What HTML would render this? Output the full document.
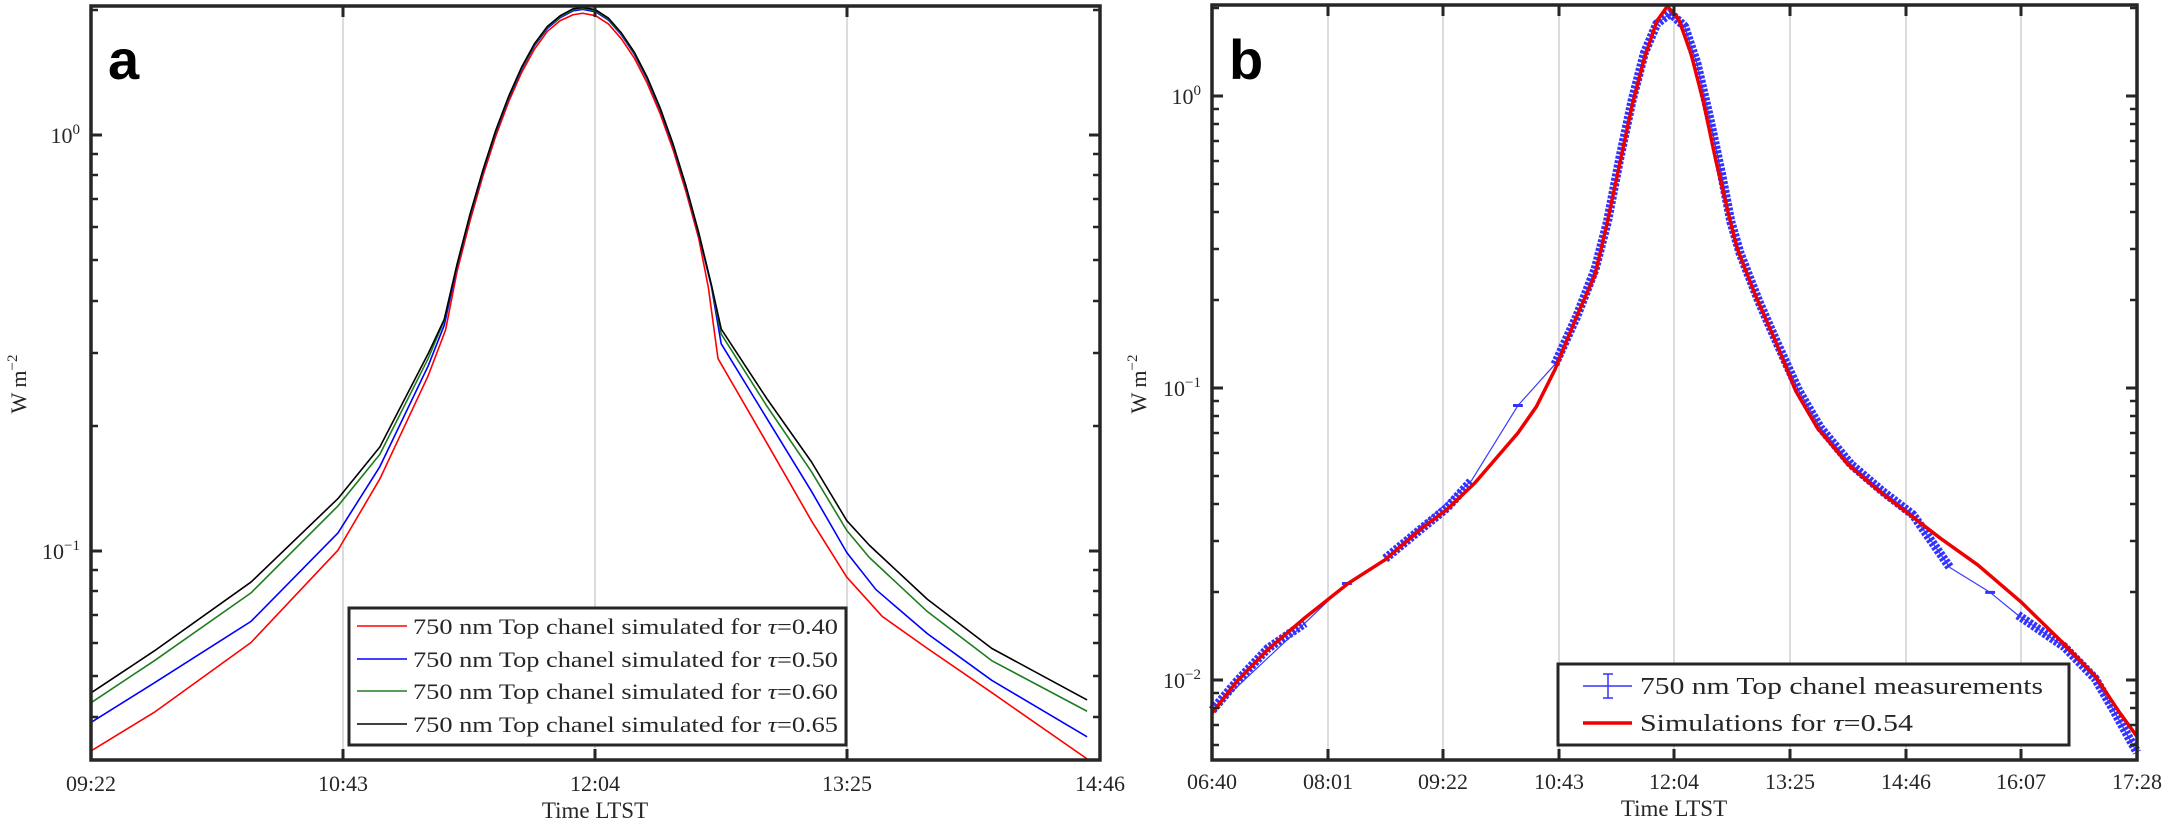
<!DOCTYPE html>
<html><head><meta charset="utf-8"><style>
html,body{margin:0;padding:0;background:#fff;}
svg{display:block;}
text{font-family:"Liberation Serif",serif;fill:#262626;}
</style></head><body>
<svg width="2168" height="828" viewBox="0 0 2168 828" xmlns="http://www.w3.org/2000/svg">
<rect width="2168" height="828" fill="#fff"/>

<!-- ============ PANEL A ============ -->
<g stroke="#dcdcdc" stroke-width="2">
<line x1="343" y1="6" x2="343" y2="760"/><line x1="595" y1="6" x2="595" y2="760"/><line x1="847" y1="6" x2="847" y2="760"/>
</g>
<g transform="translate(90,0) scale(0.6441,0.4912)" fill="none" stroke-width="1.6" stroke-linejoin="round">
<polyline vector-effect="non-scaling-stroke" stroke="#ff0000" points="0,1530 100,1450 250,1308 385,1120 450,975 525,765 552,672 570,552 590,450 610,358 630,277 650,207 670,148 690,100 710,64 730,42 750,30 765,27 785,32 805,49 825,79 845,118 865,169 885,231 905,304 925,389 945,485 960,585 975,730 1050,900 1120,1060 1175,1175 1230,1255 1300,1320 1400,1410 1548,1545"/>
<polyline vector-effect="non-scaling-stroke" stroke="#0000ff" points="0,1472 100,1390 250,1265 385,1085 450,950 525,745 550,662 570,541 590,440 610,350 630,269 650,200 670,141 690,93 710,58 730,36 750,22 765,19 785,24 805,41 825,71 845,110 865,161 885,223 905,296 925,381 945,477 965,585 980,700 1050,850 1120,1000 1175,1125 1220,1200 1300,1290 1400,1385 1548,1500"/>
<polyline vector-effect="non-scaling-stroke" stroke="#1e7d1e" points="0,1432 100,1345 250,1207 385,1030 450,925 525,730 550,652 570,539 590,438 610,348 630,267 650,198 670,139 690,91 710,56 730,34 750,20 765,17 785,22 805,39 825,69 845,108 865,159 885,221 905,294 925,379 945,475 965,583 980,680 1050,825 1120,960 1175,1080 1210,1135 1300,1245 1400,1345 1548,1448"/>
<polyline vector-effect="non-scaling-stroke" stroke="#000000" points="0,1412 100,1325 250,1185 385,1015 450,910 525,720 550,650 570,537 590,436 610,346 630,265 650,196 670,137 690,89 710,54 730,32 750,18 765,15 785,20 805,37 825,67 845,106 865,157 885,219 905,292 925,377 945,473 965,581 980,670 1050,810 1120,940 1175,1060 1210,1110 1300,1220 1400,1320 1548,1425"/>
</g>
<!-- ticks a -->
<g stroke="#262626" stroke-width="3">
<path d="M343 760v-11M595 760v-11M847 760v-11M343 6v11M595 6v11M847 6v11"/>
<path d="M91 135h11M91 551h11M1100 135h-11M1100 551h-11"/>
</g>
<g stroke="#262626" stroke-width="2.5">
<path d="M91 10h7M91 426h7M91 353h7M91 301h7M91 260h7M91 227h7M91 199h7M91 175h7M91 154h7M91 717h7M91 676h7M91 643h7M91 615h7M91 591h7M91 570h7"/>
<path d="M1100 10h-7M1100 426h-7M1100 353h-7M1100 301h-7M1100 260h-7M1100 227h-7M1100 199h-7M1100 175h-7M1100 154h-7M1100 717h-7M1100 676h-7M1100 643h-7M1100 615h-7M1100 591h-7M1100 570h-7"/>
</g>
<rect x="91" y="6" width="1009" height="754" fill="none" stroke="#262626" stroke-width="3.5"/>
<text x="108" y="79" style="font-family:'Liberation Sans',sans-serif;font-weight:bold;font-size:56px;fill:#000">a</text>
<g font-size="22" text-anchor="middle">
<text x="91" y="791">09:22</text><text x="343" y="791">10:43</text><text x="595" y="791">12:04</text><text x="847" y="791">13:25</text><text x="1100" y="791">14:46</text>
<text x="595" y="818" font-size="23">Time LTST</text>
</g>
<g font-size="22" text-anchor="end">
<text x="80" y="143">10<tspan dy="-9" font-size="15">0</tspan></text>
<text x="80" y="559">10<tspan dy="-9" font-size="15">−1</tspan></text>
</g>
<text transform="translate(26,384) rotate(-90)" font-size="22" text-anchor="middle">W m<tspan dy="-9" font-size="15">−2</tspan></text>
<!-- legend a -->
<rect x="349" y="608" width="497" height="137" fill="#fff" stroke="#262626" stroke-width="3"/>
<g stroke-width="1.6">
<line x1="357" y1="626" x2="407" y2="626" stroke="#ff0000"/>
<line x1="357" y1="659" x2="407" y2="659" stroke="#0000ff"/>
<line x1="357" y1="691" x2="407" y2="691" stroke="#1e7d1e"/>
<line x1="357" y1="724" x2="407" y2="724" stroke="#000"/>
</g>
<g font-size="22">
<text x="413" y="634" textLength="425" lengthAdjust="spacingAndGlyphs">750 nm Top chanel simulated for <tspan font-style="italic">τ</tspan>=0.40</text>
<text x="413" y="667" textLength="425" lengthAdjust="spacingAndGlyphs">750 nm Top chanel simulated for <tspan font-style="italic">τ</tspan>=0.50</text>
<text x="413" y="699" textLength="425" lengthAdjust="spacingAndGlyphs">750 nm Top chanel simulated for <tspan font-style="italic">τ</tspan>=0.60</text>
<text x="413" y="732" textLength="425" lengthAdjust="spacingAndGlyphs">750 nm Top chanel simulated for <tspan font-style="italic">τ</tspan>=0.65</text>
</g>

<!-- ============ PANEL B ============ -->
<g stroke="#dcdcdc" stroke-width="2">
<line x1="1328" y1="5" x2="1328" y2="760"/><line x1="1443" y1="5" x2="1443" y2="760"/><line x1="1559" y1="5" x2="1559" y2="760"/><line x1="1674" y1="5" x2="1674" y2="760"/><line x1="1790" y1="5" x2="1790" y2="760"/><line x1="1906" y1="5" x2="1906" y2="760"/><line x1="2021" y1="5" x2="2021" y2="760"/>
</g>
<g transform="translate(1200,0) scale(0.6173,0.528)" fill="none" stroke-linejoin="round" stroke-linecap="butt">
<polyline vector-effect="non-scaling-stroke" stroke="#3a3aff" stroke-width="1.2" points="20,1345 170,1180 237,1105 300,1058 440,910 515,768 575,690 610,600 640,510 660,420 680,300 700,190 720,100 740,45 762,25 785,50 805,120 825,220 845,330 860,420 875,480 905,570 935,650 970,740 1005,810 1055,880 1105,930 1155,975 1215,1075 1280,1122 1325,1165 1400,1225 1450,1285 1480,1345 1518,1425"/>
<g stroke="#3333ff" stroke-width="9" stroke-dasharray="3 1.5">
<polyline vector-effect="non-scaling-stroke" points="20,1345 60,1290 110,1228 170,1180"/>
<polyline vector-effect="non-scaling-stroke" points="300,1058 360,1000 400,962 440,910"/>
<polyline vector-effect="non-scaling-stroke" points="575,690 610,600 640,510 660,420 680,300 700,190 720,100 740,45 762,25 785,50 805,120 825,220 845,330 860,420 875,480 905,570 935,650 970,740 1005,810 1055,880 1105,930 1155,975 1215,1075"/>
<polyline vector-effect="non-scaling-stroke" points="1325,1165 1400,1225 1450,1285 1480,1345 1518,1425"/>
</g>
<path vector-effect="non-scaling-stroke" stroke="#3333ff" stroke-width="3" d="M230 1105h16M507 768h16M1272 1122h16"/>
<polyline vector-effect="non-scaling-stroke" stroke="#ee0000" stroke-width="3.5" points="20,1350 60,1290 110,1230 170,1170 240,1105 300,1060 360,1000 400,965 445,915 515,820 545,770 575,700 610,600 640,520 660,420 680,310 700,200 720,110 740,40 757,12 775,35 795,100 815,190 835,300 855,400 870,470 900,560 930,640 965,740 1000,810 1050,880 1100,930 1150,975 1200,1020 1260,1070 1330,1140 1400,1220 1450,1280 1490,1350 1518,1395"/>
</g>
<!-- ticks b -->
<g stroke="#262626" stroke-width="3">
<path d="M1328 760v-11M1443 760v-11M1559 760v-11M1674 760v-11M1790 760v-11M1906 760v-11M2021 760v-11"/>
<path d="M1328 5v11M1443 5v11M1559 5v11M1674 5v11M1790 5v11M1906 5v11M2021 5v11"/>
<path d="M1212 96h11M1212 388h11M1212 680h11M2137 96h-11M2137 388h-11M2137 680h-11"/>
</g>
<g stroke="#262626" stroke-width="2.5">
<path d="M1212 8h7M1212 300h7M1212 249h7M1212 212h7M1212 184h7M1212 161h7M1212 141h7M1212 124h7M1212 109h7M1212 592h7M1212 541h7M1212 504h7M1212 476h7M1212 453h7M1212 433h7M1212 416h7M1212 401h7M1212 745h7M1212 725h7M1212 708h7M1212 693h7"/>
<path d="M2137 8h-7M2137 300h-7M2137 249h-7M2137 212h-7M2137 184h-7M2137 161h-7M2137 141h-7M2137 124h-7M2137 109h-7M2137 592h-7M2137 541h-7M2137 504h-7M2137 476h-7M2137 453h-7M2137 433h-7M2137 416h-7M2137 401h-7M2137 745h-7M2137 725h-7M2137 708h-7M2137 693h-7"/>
</g>
<rect x="1212" y="5" width="925" height="755" fill="none" stroke="#262626" stroke-width="3.5"/>
<text x="1229" y="79" style="font-family:'Liberation Sans',sans-serif;font-weight:bold;font-size:56px;fill:#000">b</text>
<g font-size="22" text-anchor="middle">
<text x="1212" y="789">06:40</text><text x="1328" y="789">08:01</text><text x="1443" y="789">09:22</text><text x="1559" y="789">10:43</text><text x="1674" y="789">12:04</text><text x="1790" y="789">13:25</text><text x="1906" y="789">14:46</text><text x="2021" y="789">16:07</text><text x="2137" y="789">17:28</text>
<text x="1674" y="816" font-size="23">Time LTST</text>
</g>
<g font-size="22" text-anchor="end">
<text x="1201" y="104">10<tspan dy="-9" font-size="15">0</tspan></text>
<text x="1201" y="396">10<tspan dy="-9" font-size="15">−1</tspan></text>
<text x="1201" y="688">10<tspan dy="-9" font-size="15">−2</tspan></text>
</g>
<text transform="translate(1146,384) rotate(-90)" font-size="22" text-anchor="middle">W m<tspan dy="-9" font-size="15">−2</tspan></text>
<!-- legend b -->
<rect x="1558" y="664" width="511" height="81" fill="#fff" stroke="#262626" stroke-width="3"/>
<g stroke="#3333ff" stroke-width="1.5">
<line x1="1583" y1="686" x2="1632" y2="686"/>
<line x1="1608" y1="674" x2="1608" y2="698"/>
<line x1="1603" y1="674" x2="1613" y2="674"/>
<line x1="1603" y1="698" x2="1613" y2="698"/>
</g>
<line x1="1583" y1="723" x2="1632" y2="723" stroke="#ee0000" stroke-width="3.5"/>
<g font-size="24">
<text x="1640" y="694" textLength="403" lengthAdjust="spacingAndGlyphs">750 nm Top chanel measurements</text>
<text x="1640" y="731" textLength="273" lengthAdjust="spacingAndGlyphs">Simulations for <tspan font-style="italic">τ</tspan>=0.54</text>
</g>
</svg>
</body></html>
